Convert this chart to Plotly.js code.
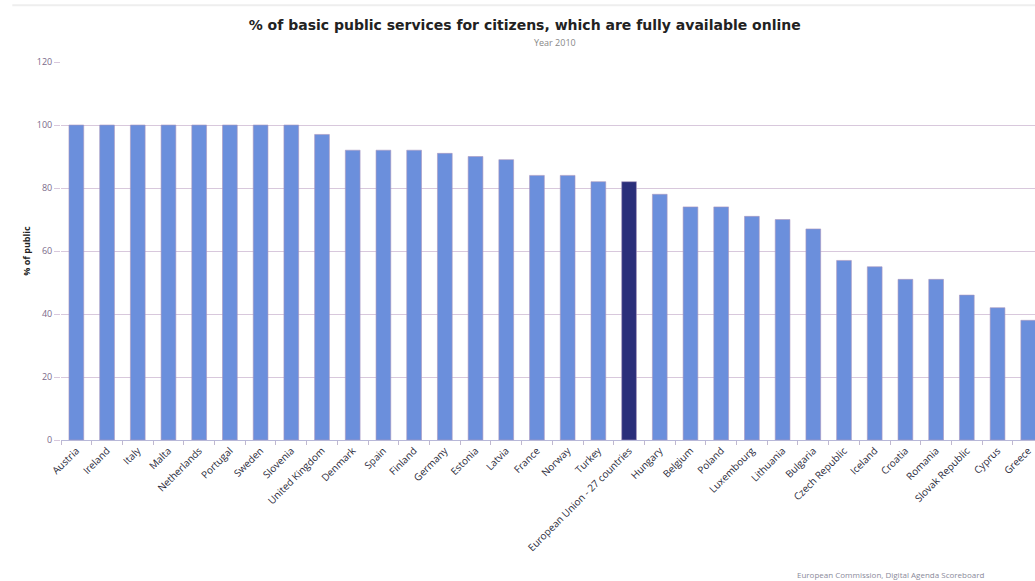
<!DOCTYPE html>
<html>
<head>
<meta charset="utf-8">
<script src="https://cdn.plot.ly/plotly-3.0.1.min.js"></script>
<style>
html,body{margin:0;padding:0;background:#fff;overflow:hidden;}
#chart{width:1035px;height:581px;}
</style>
</head>
<body>
<div id="chart"></div>
<script>
const countries = ["Austria","Ireland","Italy","Malta","Netherlands","Portugal","Sweden","Slovenia","United Kingdom","Denmark","Spain","Finland","Germany","Estonia","Latvia","France","Norway","Turkey","European Union - 27 countries","Hungary","Belgium","Poland","Luxembourg","Lithuania","Bulgaria","Czech Republic","Iceland","Croatia","Romania","Slovak Republic","Cyprus","Greece"];
const values = [100,100,100,100,100,100,100,100,97,92,92,92,91,90,89,84,84,82,82,78,74,74,71,70,67,57,55,51,51,46,42,38];
const highlight = "European Union - 27 countries";
const yTicks = [0,20,40,60,80,100,120];

const colors = countries.map(c => c === highlight ? "#2b2f7a" : "#6b8fdc");

const trace = {
  type: "bar",
  x: countries,
  y: values,
  width: 0.48,
  marker: {color: colors, line: {color: "rgba(170,150,190,0.6)", width: 1}},
  hoverinfo: "x+y"
};

const layout = {
  width: 1035, height: 581,
  margin: {l: 61, r: 0, t: 62, b: 141},
  paper_bgcolor: "#ffffff",
  plot_bgcolor: "#ffffff",
  showlegend: false,
  font: {family: "Open Sans, DejaVu Sans, sans-serif"},
  title: {
    text: "<b>% of basic public services for citizens, which are fully available online</b>",
    x: 0.507, xanchor: "center", y: 0.957, yanchor: "middle",
    font: {size: 14, color: "#222222", family: "DejaVu Sans, sans-serif"}
  },
  xaxis: {
    type: "category",
    range: [-0.5, 31.22],
    tickangle: -45,
    tickfont: {size: 10, color: "#2a2a3a", family: "Open Sans, sans-serif"},
    showgrid: false,
    showline: true, linecolor: "#b8b8d8", linewidth: 1,
    ticks: "outside", ticklen: 4, tickcolor: "#c0b8d0",
    tickson: "boundaries",
    automargin: false
  },
  yaxis: {
    range: [0, 120],
    tickvals: yTicks,
    ticktext: yTicks.map(String),
    tickfont: {size: 9, color: "#7a6a8a"},
    showgrid: true, gridcolor: "#d8c8dc", gridwidth: 1,
    zeroline: false,
    ticks: "outside", ticklen: 6, tickcolor: "#d8c8dc",
    title: {text: "<b>% of public</b>", font: {size: 9, color: "#222222"}, standoff: 4},
    automargin: false
  },
  annotations: [
    {text: "Year 2010", xref: "paper", yref: "paper", x: 0.507, y: 1.052, xanchor: "center", yanchor: "middle", showarrow: false, font: {size: 9, color: "#888888"}},
    {text: "European Commission, Digital Agenda Scoreboard", xref: "paper", yref: "paper", x: (795-61)/974, y: -0.355, xanchor: "left", yanchor: "middle", showarrow: false, font: {size: 8, color: "#8a8a9a"}}
  ],
  shapes: [
    {type: "line", xref: "paper", yref: "paper", x0: -0.05, x1: 1, y0: 1.15, y1: 1.15, line: {color: "#eeeeee", width: 2}}
  ]
};

Plotly.newPlot("chart", [trace], layout, {displayModeBar: false, staticPlot: true});
</script>
</body>
</html>
